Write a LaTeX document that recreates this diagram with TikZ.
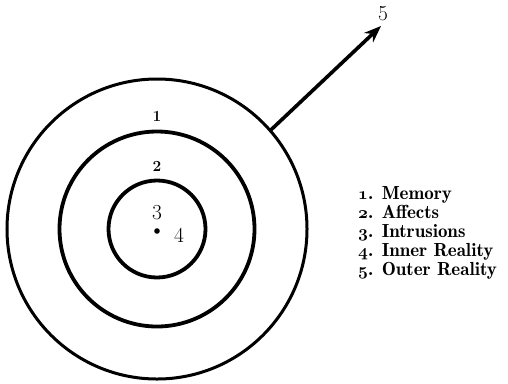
\documentclass[tikz,border=0pt]{standalone}
\usetikzlibrary{arrows.meta}
\newcommand\osnum[1]{{\usefont{OML}{cmm}{b}{it}#1}}
\tikzset{
  ring/.style={circle, draw, inner sep=0pt, outer sep=0pt},
  smalllab/.style={font=\fontsize{15.5}{15.5}\selectfont\bfseries, inner sep=0pt},
  biglab/.style={font=\fontsize{21.5}{21.5}\selectfont, inner sep=0pt},
  legend/.style={anchor=base west, inner sep=0pt, font=\fontsize{19}{19}\fontseries{b}\selectfont},
}
\begin{document}
\begin{tikzpicture}[x=1bp,y=-1bp]
\useasboundingbox (0,0) rectangle (508,383);
\node[ring, line width=3bp, minimum size=300bp] (outer) at (157,229) {};
\node[ring, line width=3.8bp, minimum size=195bp] (middle) at (157,229) {};
\node[ring, line width=3.8bp, minimum size=97bp] (inner) at (157,229) {};
\fill (157,231) circle (2.8bp) coordinate (dot);
\node[smalllab] (n1) at (157,116) {1};
\node[smalllab] (n2) at (157,166) {2};
\node[biglab] (n3) at (157,213) {3};
\node[biglab] (n4) at (179,235) {4};
\coordinate (tip) at (381,26);
\draw[line width=3.6bp, -{Stealth[length=17bp,width=13bp]}] (outer.41.6) -- (tip);
\node[biglab] (n5) at (383,14) {5};
\node[legend] (l1) at (358,199) {\osnum{1}. Memory};
\node[legend] (l2) at (358,218) {\osnum{2}. Affects};
\node[legend] (l3) at (358,237) {\osnum{3}. Intrusions};
\node[legend] (l4) at (358,256) {\osnum{4}. Inner Reality};
\node[legend] (l5) at (358,275) {\osnum{5}. Outer Reality};
\end{tikzpicture}
\end{document}
